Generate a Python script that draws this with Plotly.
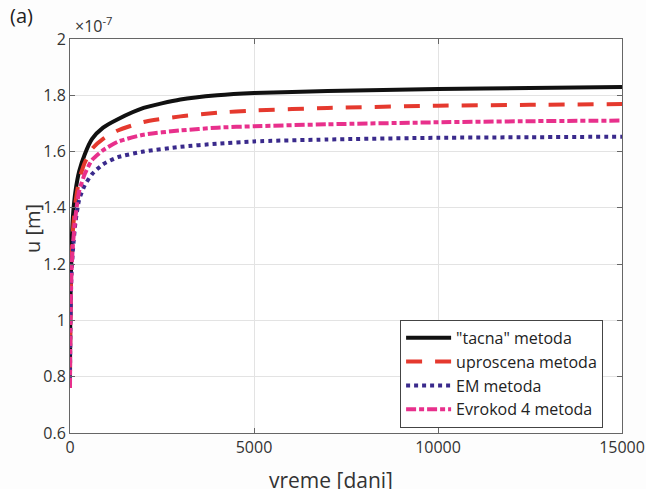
import plotly.graph_objects as go

t = [0, 5, 10, 20, 40, 80, 150, 250, 400, 600, 900, 1300, 2000, 3000, 4000, 5000, 7000, 10000, 12500, 15000]
tacna = [0.82, 0.95, 1.03, 1.13, 1.25, 1.37, 1.46, 1.53, 1.59, 1.645, 1.685, 1.715, 1.755, 1.785, 1.80, 1.808, 1.815, 1.822, 1.826, 1.829]
uproscena = [0.80, 0.92, 1.00, 1.10, 1.21, 1.32, 1.42, 1.50, 1.56, 1.61, 1.645, 1.675, 1.705, 1.725, 1.738, 1.746, 1.755, 1.763, 1.766, 1.769]
em = [0.79, 0.90, 0.97, 1.06, 1.16, 1.25, 1.35, 1.43, 1.48, 1.52, 1.555, 1.58, 1.60, 1.617, 1.628, 1.636, 1.643, 1.649, 1.651, 1.653]
evrokod = [0.76, 0.88, 0.96, 1.06, 1.17, 1.27, 1.37, 1.46, 1.52, 1.57, 1.605, 1.635, 1.66, 1.675, 1.685, 1.69, 1.697, 1.704, 1.708, 1.71]

x_ticks = [0, 5000, 10000, 15000]
x_ticklabels = ['0', '5000', '10000', '15000']
y_ticks = [0.6, 0.8, 1.0, 1.2, 1.4, 1.6, 1.8, 2.0]
y_ticklabels = ['0.6', '0.8', '1', '1.2', '1.4', '1.6', '1.8', '2']

names = ['"tacna" metoda', 'uproscena metoda', 'EM metoda', 'Evrokod 4 metoda']
colors = ['#111111', '#E5392E', '#3A2A8C', '#E8308C']
dashes = ['solid', '16px,13px', '4px,4px', '10px,3px,5px,3px']
series = [tacna, uproscena, em, evrokod]

fig = go.Figure()
for name, ys, c, d in zip(names, series, colors, dashes):
    fig.add_trace(go.Scatter(x=t, y=ys, mode='lines', name=name,
                             line=dict(color=c, width=4, dash=d, shape='spline', smoothing=0.6)))

axis_common = dict(showline=True, linecolor='#666666', linewidth=1, mirror='ticks',
                   ticks='inside', ticklen=5, tickcolor='#666666', automargin=False,
                   showgrid=True, gridcolor='#E3E3E3', gridwidth=1, zeroline=False,
                   tickfont=dict(size=16, color='#333333'))

fig.update_layout(
    width=646, height=489,
    margin=dict(l=70, r=24, t=39, b=56),
    paper_bgcolor='#FDFDFD', plot_bgcolor='#FFFFFF',
    font=dict(family='Open Sans', size=16, color='#333333'),
    xaxis=dict(range=[0, 15000], tickvals=x_ticks, ticktext=x_ticklabels, **axis_common),
    yaxis=dict(range=[0.6, 2.0], tickvals=y_ticks, ticktext=y_ticklabels, **axis_common),
    legend=dict(x=0.598, y=0.287, xanchor='left', yanchor='top',
                bgcolor='#FFFFFF', bordercolor='#444444', borderwidth=1,
                font=dict(size=16, color='#222222'), itemwidth=45,
                tracegroupgap=0),
    showlegend=True,
)

fig.add_annotation(text='vreme [dani]', xref='paper', yref='paper', x=0.473, y=-0.119,
                   xanchor='center', yanchor='middle', showarrow=False,
                   font=dict(size=21, color='#333333'))
fig.add_annotation(text='u [m]', xref='paper', yref='paper', x=-0.069, y=0.52,
                   xanchor='center', yanchor='middle', showarrow=False, textangle=-90,
                   font=dict(size=20, color='#333333'))
fig.add_annotation(text='(a)', xref='paper', yref='paper', x=-0.112, y=1.02,
                   xanchor='left', yanchor='bottom', showarrow=False,
                   font=dict(size=20, color='#222222'))
fig.add_annotation(text='×10<sup>-7</sup>', xref='paper', yref='paper', x=0.005, y=1.0,
                   xanchor='left', yanchor='bottom', showarrow=False,
                   font=dict(size=16, color='#333333'))

fig.write_html('out.html', config={'displayModeBar': False},
               post_script="document.body.style.margin='0';document.body.style.overflow='hidden';")
